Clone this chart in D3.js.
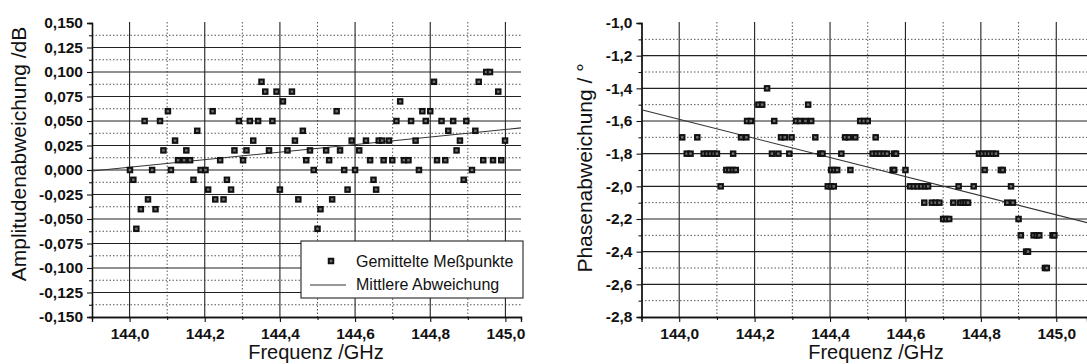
<!DOCTYPE html>
<html>
<head>
<meta charset="utf-8">
<script src="https://cdn.jsdelivr.net/npm/d3@7"></script>
<style>
  html, body { margin: 0; padding: 0; background: #fff; }
  svg { display: block; }
  text { font-family: "Liberation Sans", Arial, sans-serif; fill: #111; }
</style>
</head>
<body>
<svg id="chart" width="1087" height="364"></svg>
<script>
// ---------- DATA ----------
const xTicks = [144.0, 144.2, 144.4, 144.6, 144.8, 145.0];
const leftYTicks = [-0.150, -0.125, -0.100, -0.075, -0.050, -0.025, 0.000, 0.025, 0.050, 0.075, 0.100, 0.125, 0.150];
const rightYTicks = [-2.8, -2.6, -2.4, -2.2, -2.0, -1.8, -1.6, -1.4, -1.2, -1.0];

const ampFreq = [144.001,144.010,144.018,144.030,144.040,144.049,144.060,144.069,144.081,144.090,
  144.102,144.110,144.121,144.129,144.145,144.151,144.161,144.170,144.180,144.189,
  144.202,144.209,144.221,144.228,144.241,144.250,144.259,144.270,144.279,144.291,
  144.302,144.311,144.320,144.329,144.342,144.351,144.361,144.371,144.380,144.391,
  144.400,144.408,144.420,144.432,144.440,144.449,144.461,144.470,144.480,144.490,
  144.500,144.508,144.523,144.531,144.539,144.551,144.560,144.571,144.580,144.591,
  144.600,144.611,144.629,144.640,144.649,144.656,144.663,144.672,144.676,144.690,
  144.699,144.710,144.720,144.730,144.742,144.749,144.761,144.770,144.779,144.788,
  144.800,144.810,144.818,144.830,144.840,144.848,144.861,144.870,144.879,144.889,
  144.896,144.911,144.920,144.929,144.941,144.949,144.959,144.967,144.981,144.989,
  144.999];
const ampDev = [0.00,-0.01,-0.06,-0.04,0.05,-0.03,0.00,-0.04,0.05,0.02,
  0.06,0.00,0.03,0.01,0.01,0.02,0.01,-0.01,0.04,0.00,
  0.00,-0.02,0.06,-0.03,0.01,-0.03,-0.01,-0.02,0.02,0.05,
  0.01,0.02,0.05,0.03,0.05,0.09,0.08,0.02,0.05,0.08,
  -0.02,0.07,0.02,0.08,0.03,-0.03,0.04,0.01,0.02,0.00,
  -0.06,-0.04,0.02,0.01,-0.03,0.06,0.02,0.00,-0.02,0.03,
  0.00,0.02,0.03,0.01,-0.01,-0.02,0.03,0.03,0.01,0.03,
  0.01,0.05,0.07,0.01,0.01,0.05,0.03,0.00,0.06,0.05,
  0.06,0.09,0.01,0.05,0.01,0.04,0.05,0.02,0.03,-0.01,
  0.05,0.00,0.04,0.09,0.01,0.10,0.10,0.01,0.08,0.01,
  0.03];
const ampTrendFreq = [143.9, 145.1];
const ampTrendDev = [-0.001, 0.0452];

const phaseFreq = [144.233,
  144.210,144.220,144.342,
  144.180,144.190,144.252,144.310,144.320,144.335,144.350,144.480,144.490,144.500,
  144.008,144.048,144.164,144.178,144.270,144.280,144.298,144.361,144.440,144.450,144.467,144.521,
  144.020,144.030,144.065,144.074,144.083,144.092,144.100,144.143,144.246,144.263,144.292,144.374,144.380,144.430,
  144.513,144.523,144.532,144.542,144.551,144.570,144.575,144.795,144.804,144.813,144.822,144.831,144.840,
  144.125,144.133,144.142,144.150,144.403,144.411,144.419,144.454,144.566,144.570,144.600,144.810,144.853,144.858,
  144.110,144.394,144.402,144.410,144.612,144.622,144.632,144.642,144.652,144.660,144.741,144.781,144.880,
  144.650,144.670,144.680,144.690,144.727,144.745,144.752,144.759,144.766,144.870,144.885,
  144.700,144.708,144.716,144.900,
  144.906,144.940,144.948,144.955,144.990,144.995,
  144.920,144.925,
  144.970,144.975];
const phaseDev = [-1.4,
  -1.5,-1.5,-1.5,
  -1.6,-1.6,-1.6,-1.6,-1.6,-1.6,-1.6,-1.6,-1.6,-1.6,
  -1.7,-1.7,-1.7,-1.7,-1.7,-1.7,-1.7,-1.7,-1.7,-1.7,-1.7,-1.7,
  -1.8,-1.8,-1.8,-1.8,-1.8,-1.8,-1.8,-1.8,-1.8,-1.8,-1.8,-1.8,-1.8,-1.8,
  -1.8,-1.8,-1.8,-1.8,-1.8,-1.8,-1.8,-1.8,-1.8,-1.8,-1.8,-1.8,-1.8,
  -1.9,-1.9,-1.9,-1.9,-1.9,-1.9,-1.9,-1.9,-1.9,-1.9,-1.9,-1.9,-1.9,-1.9,
  -2.0,-2.0,-2.0,-2.0,-2.0,-2.0,-2.0,-2.0,-2.0,-2.0,-2.0,-2.0,-2.0,
  -2.1,-2.1,-2.1,-2.1,-2.1,-2.1,-2.1,-2.1,-2.1,-2.1,-2.1,
  -2.2,-2.2,-2.2,-2.2,
  -2.3,-2.3,-2.3,-2.3,-2.3,-2.3,
  -2.4,-2.4,
  -2.5,-2.5];
const phaseTrendFreq = [143.9, 145.1];
const phaseTrendDev = [-1.531, -2.233];

const legendLabels = ["Gemittelte Meßpunkte", "Mittlere Abweichung"];

// ---------- DRAWING ----------
const svg = d3.select("#chart");
const comma = (d, n) => d.toFixed(n).replace(".", ",");
const MS = 6.5, MI = 2.5;

function marker(sel, cx, cy) {
  sel.append("rect").attr("x", cx - MS / 2).attr("y", cy - MS / 2)
    .attr("width", MS).attr("height", MS).attr("fill", "#111");
  sel.append("rect").attr("x", cx - MI / 2).attr("y", cy - MI / 2)
    .attr("width", MI).attr("height", MI).attr("fill", "#6e6e6e");
}

function panel(cfg) {
  const { x0, x1, yTop, yBot, xDomain, yDomain, yTicks, yDec, xTitle, yTitle,
          xTitleX, yTitleX, yTitleY, fx, fy, tf, tv, id } = cfg;
  const x = d3.scaleLinear().domain(xDomain).range([x0, x1]);
  const y = d3.scaleLinear().domain(yDomain).range([yBot, yTop]);
  const g = svg.append("g");

  const clipId = "clip" + id;
  svg.append("clipPath").attr("id", clipId)
    .append("rect").attr("x", x0).attr("y", yTop - 2).attr("width", x1 - x0).attr("height", yBot - yTop + 2);

  const grid = g.append("g").attr("clip-path", `url(#${clipId})`);
  const yStep = yTicks[1] - yTicks[0];
  const xStep = xTicks[1] - xTicks[0];
  const yMinor = d3.range(yTicks.length - 1).map(i => yTicks[i] + yStep / 2);
  const xMinorAll = [xTicks[0] - xStep / 2].concat(xTicks.map(t => t + xStep / 2));
  const xMinor = xMinorAll.filter(v => v > xDomain[0] + 1e-9 && v < xDomain[1]);

  grid.selectAll(".hm").data(yMinor).join("line")
    .attr("x1", x0).attr("x2", x1).attr("y1", d => y(d)).attr("y2", d => y(d))
    .attr("stroke", "#555").attr("stroke-width", 1).attr("stroke-dasharray", "1.5,2");
  grid.selectAll(".vm").data(xMinor).join("line")
    .attr("x1", d => x(d)).attr("x2", d => x(d)).attr("y1", yTop - 1).attr("y2", yBot)
    .attr("stroke", "#555").attr("stroke-width", 1).attr("stroke-dasharray", "1.5,2");
  grid.selectAll(".hM").data(yTicks.filter(v => v !== yDomain[0] && v !== yDomain[1])).join("line")
    .attr("x1", x0).attr("x2", x1).attr("y1", d => y(d)).attr("y2", d => y(d))
    .attr("stroke", "#222").attr("stroke-width", 1.1);
  grid.selectAll(".vM").data(xTicks).join("line")
    .attr("x1", d => x(d)).attr("x2", d => x(d)).attr("y1", yTop - 1).attr("y2", yBot)
    .attr("stroke", "#222").attr("stroke-width", 1.1);

  const yAxis = d3.axisLeft(y).tickValues(yTicks).tickSize(5).tickPadding(4)
    .tickFormat(d => comma(d, yDec));
  const yAxisMinor = d3.axisLeft(y).tickValues(yMinor).tickSize(3).tickFormat("");
  const xAxis = d3.axisBottom(x).tickValues(xTicks).tickSize(5).tickPadding(6)
    .tickFormat(d => comma(d, 1));
  const xAxisMinor = d3.axisBottom(x).tickValues(xMinor).tickSize(3).tickFormat("");

  g.append("g").attr("transform", `translate(${x0},0)`).call(yAxis);
  g.append("g").attr("transform", `translate(${x0},0)`).call(yAxisMinor);
  g.append("g").attr("transform", `translate(0,${yBot})`).call(xAxis);
  g.append("g").attr("transform", `translate(0,${yBot})`).call(xAxisMinor);
  g.selectAll(".domain").attr("stroke", "#111").attr("stroke-width", 1.3);
  g.selectAll(".tick line").attr("stroke", "#111").attr("stroke-width", 1.1);
  g.selectAll(".tick text").style("font-family", "'Liberation Sans', Arial, sans-serif")
    .style("font-size", "15.5px").style("font-weight", "bold").attr("fill", "#111");

  g.append("text").attr("x", xTitleX).attr("y", 358.5).attr("text-anchor", "middle")
    .style("font-size", "20px").text(xTitle);
  g.append("text").attr("transform", `translate(${yTitleX},${yTitleY}) rotate(-90)`)
    .attr("text-anchor", "middle").style("font-size", "21px").text(yTitle);

  const line = d3.line().x(d => x(d[0])).y(d => y(d[1]));
  g.append("path").attr("clip-path", `url(#${clipId})`)
    .datum(tf.map((f, i) => [f, tv[i]]))
    .attr("d", line).attr("fill", "none").attr("stroke", "#333").attr("stroke-width", 1.1);

  const mk = g.append("g");
  fx.forEach((f, i) => marker(mk, x(f), y(fy[i])));
  return { x, y, g };
}

panel({
  id: "L", x0: 92, x1: 521, yTop: 23, yBot: 317,
  xDomain: [143.9, 145.0415], yDomain: [-0.15, 0.15], yTicks: leftYTicks, yDec: 3,
  xTitle: "Frequenz /GHz", yTitle: "Amplitudenabweichung /dB",
  xTitleX: 316, yTitleX: 26, yTitleY: 154,
  fx: ampFreq, fy: ampDev, tf: ampTrendFreq, tv: ampTrendDev
});

panel({
  id: "R", x0: 641.5, x1: 1087, yTop: 23, yBot: 317,
  xDomain: [143.9, 145.0815], yDomain: [-2.8, -1.0], yTicks: rightYTicks, yDec: 1,
  xTitle: "Frequenz /GHz", yTitle: "Phasenabweichung / °",
  xTitleX: 876, yTitleX: 592, yTitleY: 168,
  fx: phaseFreq, fy: phaseDev, tf: phaseTrendFreq, tv: phaseTrendDev
});

// legend (left panel)
const lg = svg.append("g");
lg.append("rect").attr("x", 301).attr("y", 241).attr("width", 222).attr("height", 57)
  .attr("fill", "#fff").attr("stroke", "#222").attr("stroke-width", 1.1);
marker(lg, 331, 261);
lg.append("line").attr("x1", 310).attr("x2", 346).attr("y1", 285).attr("y2", 285)
  .attr("stroke", "#333").attr("stroke-width", 1.1);
lg.selectAll("text").data(legendLabels).join("text")
  .attr("x", 356).attr("y", (d, i) => i === 0 ? 266.5 : 290)
  .style("font-size", "16px").text(d => d);
</script>
</body>
</html>
